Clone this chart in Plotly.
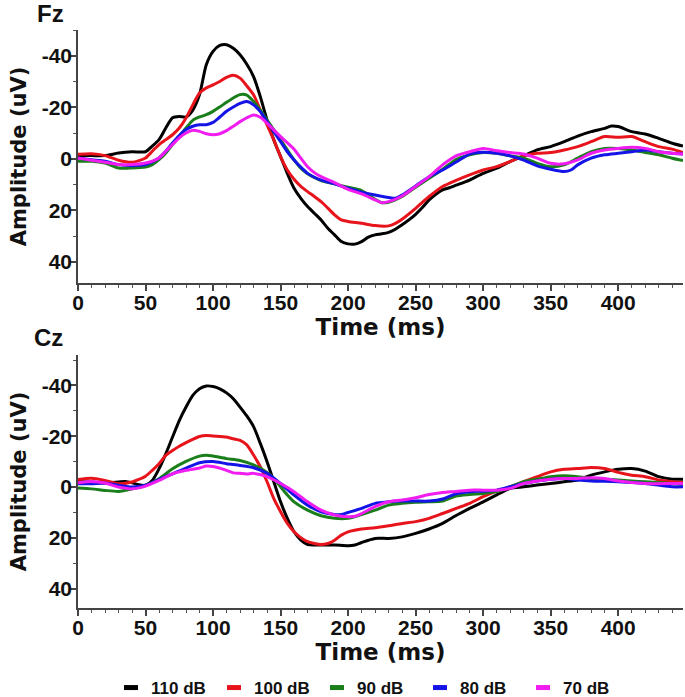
import plotly.graph_objects as go

# ---------------- data ----------------
levels = ["110 dB", "100 dB", "90 dB", "80 dB", "70 dB"]
colors = ["#000000", "#e8141c", "#1a7f1a", "#1414e6", "#f01cf0"]

# Fz panel
fz_t_110 = [0,10,20,30,40,50,55,60,65,70,75,80,85,90,95,100,105,110,115,120,125,130,135,140,145,150,155,160,165,170,175,180,185,190,195,200,205,210,215,220,225,230,235,240,245,250,255,260,265,270,275,280,290,300,310,320,330,340,350,360,370,380,390,395,400,410,420,430,440,448]
fz_v_110 = [-1.3,-1.3,-1.3,-2.3,-2.8,-2.8,-5,-7.5,-12,-16,-16.5,-16.3,-19,-25,-36.6,-41.8,-44.1,-44.4,-43,-40.5,-36.8,-32,-24.2,-15.1,-7.4,-0.9,5.6,11.4,15.3,18.5,21.1,23.7,26.9,29.5,32.1,33.0,33.1,32.1,30.4,29.5,29.1,28.5,27.3,25.6,23.7,21.5,18.9,15.9,13.7,12.0,11.2,10.2,8.2,5.6,3.6,1.0,-1.2,-3.5,-4.8,-6.7,-8.9,-10.6,-11.9,-12.8,-12.6,-10.6,-9.7,-8.0,-6.1,-5.0]

fz_t_100 = [0,10,20,30,40,50,55,60,65,70,75,80,85,90,95,100,105,110,115,120,125,130,135,140,145,150,155,160,165,170,175,180,185,190,195,200,210,220,230,235,240,250,260,270,280,290,300,310,320,330,340,350,360,370,380,390,400,410,420,430,440,448]
fz_v_100 = [-1.8,-2,-1.3,0.5,1.3,-0.4,-3,-5.6,-7.5,-9.4,-12,-15.9,-21,-25.6,-27.6,-28.8,-30.1,-31.7,-32.5,-31.4,-28.4,-24.9,-19,-13.2,-7.4,-0.9,4.3,7.9,10.7,12.7,14.6,16.6,19.1,21.7,23.7,24.3,25,25.9,26,25,23.4,19.2,14.6,10.7,8.3,6.2,4.3,3.0,1.0,-1.2,-2.2,-2.5,-3.5,-4.8,-6.7,-8.7,-8.4,-8.7,-6.7,-4.8,-3.8,-2.5]

fz_t_90 = [0,10,20,30,40,50,55,60,65,70,75,80,85,90,95,100,105,110,115,120,125,130,135,140,145,150,155,160,165,170,175,180,190,200,210,220,225,230,240,250,260,270,280,290,300,310,320,330,340,350,360,370,380,390,400,410,420,430,440,448]
fz_v_90 = [0.9,0.9,1.6,3.5,3.5,3.1,2.2,0.3,-2.3,-5.6,-8.8,-12,-15,-16.3,-17.2,-18.5,-20.2,-22,-23.7,-25,-24.8,-22.3,-19,-15.1,-11.3,-7.4,-3.5,0.4,3.6,5.8,7.2,8.4,9.7,11,12.3,15.7,17,16.8,14.6,11,7.5,4,0.2,-1.6,-2.5,-2.2,-1.2,-0.3,1.7,3,2.3,-0.3,-2.8,-4.1,-4.1,-3.5,-2.5,-1.6,-0.3,0.6]

fz_t_80 = [0,10,20,30,40,50,60,65,70,75,80,85,90,95,100,105,110,115,120,125,130,135,140,145,150,155,160,165,170,175,180,190,200,210,220,230,235,240,250,260,270,280,290,300,310,320,330,340,350,360,365,370,380,390,400,410,420,430,440,448]
fz_v_80 = [-0.4,0.3,0.9,2.2,2.6,2.2,-0.4,-3,-6.2,-9.1,-11.4,-12.7,-13.3,-13.3,-14.2,-16.3,-18.5,-20.2,-21.6,-22.3,-21,-18.4,-14.5,-10.6,-6.7,-2.8,0.4,3.2,5.6,7.1,8.2,9.7,11.4,12.9,14,15,15.3,14,10.5,6.9,4.3,1.2,-1.9,-2.6,-2.2,-1.2,0.4,2.7,4,4.9,4.3,2.3,-0.3,-1.6,-2.2,-2.8,-3.5,-2.8,-2.2,-1.9]

fz_t_70 = [0,10,20,30,40,50,60,65,70,75,80,85,90,95,100,105,110,115,120,125,130,135,140,145,150,155,160,165,170,175,180,190,200,210,220,225,230,240,250,260,270,280,290,300,310,320,330,340,350,360,370,380,390,400,410,420,430,440,448]
fz_v_70 = [-0.4,0.5,1.3,2.2,2.2,1.6,-0.4,-3,-5.6,-8.2,-10.1,-11.1,-10.7,-9.8,-9.4,-9.8,-11,-12.7,-14.5,-16,-17.1,-16.2,-13.9,-11.3,-8.7,-6.3,-3.8,-0.3,3,5.3,6.9,9.2,11.8,13.6,15.9,17,16.6,14.4,10.7,6.9,2.3,-1.2,-2.8,-4.1,-3.2,-2.5,-1.9,-0.3,1.7,1.9,0.4,-2.2,-3.5,-4.1,-4.5,-4.1,-2.8,-2.2,-1.9]

# Cz panel
cz_t_110 = [0,10,20,30,35,40,45,50,55,60,65,70,75,80,85,90,95,100,105,110,115,120,125,130,135,140,145,150,155,160,165,170,175,180,190,200,205,210,220,230,240,250,260,270,280,290,300,310,320,330,340,350,360,370,380,390,400,410,420,430,440,448]
cz_v_110 = [-2.2,-2,-1.6,-2,-2.2,-1.7,-0.9,-0.7,-2.6,-7.2,-13.1,-19.7,-26.2,-31.5,-36.1,-38.7,-39.8,-39.6,-38.7,-37.1,-34.8,-31.5,-28,-23.8,-17.2,-10,-2.1,5.8,12.3,17.6,20.9,22.6,22.8,22.8,22.8,23.1,22.8,21.8,20.2,20.2,19.6,18.2,16.5,14.3,11.2,8.4,5.8,3.1,0.5,-0.1,-0.8,-1.4,-2.1,-2.8,-4.7,-6.0,-7.0,-7.3,-6.3,-4.1,-3.1,-3.1]

cz_t_100 = [0,10,20,30,40,45,50,55,60,65,70,75,80,85,90,95,100,110,115,120,125,130,135,140,145,150,155,160,165,170,175,180,185,190,195,200,210,220,230,240,250,260,270,280,290,300,310,320,330,340,350,360,370,380,390,400,410,420,430,440,448]
cz_v_100 = [-3,-3.5,-2.6,-1.3,-2,-3,-4.3,-6.6,-9.2,-12.5,-14.4,-16.1,-17.5,-18.8,-19.9,-20.3,-20.1,-19.7,-19,-18.4,-16.6,-12.6,-8,-2.1,4.5,9.7,14.3,17.6,19.9,21.5,22.2,22.6,22.2,20.9,18.9,17.6,16.5,16,15.2,14.3,13.6,12.3,10.4,8.4,6.4,3.8,1.6,-0.1,-2.1,-4.1,-6,-7,-7.3,-7.7,-7.3,-5.8,-4.7,-4.1,-2.8,-2.1,-1.8]

cz_t_90 = [0,10,20,30,40,50,60,70,80,90,95,100,110,120,130,140,145,150,155,160,170,180,190,200,210,220,230,240,250,260,270,280,290,300,310,320,330,340,350,360,370,380,390,400,410,420,440,448]
cz_v_90 = [0.4,0.7,1.3,1.7,0.7,-0.7,-3.3,-7.2,-10.1,-12.2,-12.5,-12.2,-11.2,-10.5,-8.7,-5.8,-3.4,-0.1,3.1,5.8,9.1,11.3,12.3,12.3,10.8,9.1,7.1,6.4,6,5.8,5.5,3.5,2.9,2.5,1.8,-0.1,-2.1,-3.1,-4.1,-4.5,-4.1,-3.4,-3.1,-2.8,-2.4,-2.1,-1.4,-1.0]

cz_t_80 = [0,10,20,30,40,50,60,70,80,90,100,110,120,130,140,150,160,170,180,190,195,200,210,220,230,240,250,260,270,280,290,300,310,320,330,340,350,360,370,380,400,420,440,448]
cz_v_80 = [-1.3,-1.3,-1.6,-0.7,0,-0.7,-3,-5.2,-7.5,-9.6,-10.1,-9.2,-8.5,-7.6,-5.4,-1.4,3.1,7.1,9.7,10.8,10.8,10,8.4,6.4,5.8,5.5,5.5,5.5,4.7,2.6,1.8,1.6,1.2,-0.1,-1.4,-2.4,-3.1,-3.4,-2.8,-2.4,-2.1,-1.4,-0.1,-0.1]

cz_t_70 = [0,10,20,30,40,50,60,70,80,90,95,100,110,115,120,125,130,140,150,160,170,180,190,200,205,210,220,230,240,250,260,270,280,290,300,310,320,330,340,350,360,370,380,390,400,420,440,448]
cz_v_70 = [-1.7,-2.2,-1.6,0,0.7,-0.4,-2.6,-5.2,-6.6,-7.5,-8.3,-8.1,-6.6,-5.6,-5.4,-5.2,-5.4,-4.1,-1.4,1.8,5.8,9.1,11,11.7,11.5,10.4,7.7,5.8,5.1,4.2,2.9,2.1,1.7,1.2,1.2,1.2,0.5,-1.4,-2.4,-3.1,-3.4,-3.4,-3.7,-3.4,-2.4,-1.4,-1.4,-1.4]

panel_labels = ["Fz", "Cz"]
x_tickvals = [0, 50, 100, 150, 200, 250, 300, 350, 400]
y_tickvals = [-40, -20, 0, 20, 40]
y_ticktext = ["-40", "-20", "0", "20", "40"]

fz_series = [(fz_t_110, fz_v_110), (fz_t_100, fz_v_100), (fz_t_90, fz_v_90),
             (fz_t_80, fz_v_80), (fz_t_70, fz_v_70)]
cz_series = [(cz_t_110, cz_v_110), (cz_t_100, cz_v_100), (cz_t_90, cz_v_90),
             (cz_t_80, cz_v_80), (cz_t_70, cz_v_70)]

# ---------------- figure ----------------
W, H = 685, 697
ML, MR = 78, 2
PW = W - ML - MR
fig = go.Figure()

for i, (t, v) in enumerate(fz_series):
    fig.add_trace(go.Scatter(x=t, y=v, mode="lines", xaxis="x", yaxis="y",
                             line=dict(color=colors[i], width=3, shape="spline", smoothing=0.7),
                             showlegend=False, hoverinfo="skip"))
for i, (t, v) in enumerate(cz_series):
    fig.add_trace(go.Scatter(x=t, y=v, mode="lines", xaxis="x2", yaxis="y2",
                             line=dict(color=colors[i], width=3, shape="spline", smoothing=0.7),
                             showlegend=False, hoverinfo="skip"))
# legend entries
for i, name in enumerate(levels):
    fig.add_trace(go.Scatter(x=[None], y=[None], mode="markers", name=name,
                             xaxis="x2", yaxis="y2",
                             marker=dict(symbol="line-ew", size=10,
                                         line=dict(color=colors[i], width=6)),
                             showlegend=True))

tick_font = dict(family="Liberation Sans, Arial, sans-serif", size=21, color="#111111", weight="bold")
xtitle_font = dict(family="DejaVu Sans, sans-serif", size=23, color="#111111", weight="bold")
ytitle_font = dict(family="DejaVu Sans, sans-serif", size=21, color="#111111", weight="bold")

def xax(anchor):
    return dict(range=[0, 448], domain=[0, 1], anchor=anchor,
                tickmode="array", tickvals=x_tickvals,
                showline=True, linecolor="#444444", linewidth=1.5,
                ticks="outside", ticklen=6, tickwidth=1.5, tickcolor="#444444",
                minor=dict(dtick=10, tick0=0, ticks="outside", ticklen=3,
                           tickwidth=1, tickcolor="#555555"),
                ticklabelstandoff=-6,
                showgrid=False, zeroline=False, tickfont=tick_font,
                title=dict(text="Time (ms)", font=xtitle_font, standoff=2))

def yax(anchor, rng, dom):
    return dict(range=rng, domain=dom, anchor=anchor,
                tickmode="array", tickvals=y_tickvals, ticktext=y_ticktext,
                showline=True, linecolor="#444444", linewidth=1.5,
                ticks="outside", ticklen=6, tickwidth=1.5, tickcolor="#444444",
                minor=dict(dtick=10, tick0=0, ticks="outside", ticklen=3,
                           tickwidth=1, tickcolor="#555555"),
                ticklabelstandoff=-6,
                showgrid=False, zeroline=False, tickfont=tick_font,
                title=dict(text="Amplitude (uV)", font=ytitle_font, standoff=9))

def px_x(p):
    return (p - ML) / PW

fig.update_layout(
    width=W, height=H,
    margin=dict(l=ML, r=MR, t=0, b=0, autoexpand=False),
    plot_bgcolor="white", paper_bgcolor="white",
    xaxis=xax("y"),
    yaxis=yax("x", [48.2, -50.1], [1 - 283 / H, 1 - 30 / H]),
    xaxis2=xax("y2"),
    yaxis2=yax("x2", [47.6, -52.0], [1 - 608 / H, 1 - 355 / H]),
    legend=dict(orientation="h", x=px_x(111), xanchor="left",
                y=1 - 688 / H, yanchor="middle",
                font=dict(family="Liberation Sans, Arial, sans-serif", size=17,
                          color="#111111", weight="bold"),
                itemwidth=30, entrywidth=58, entrywidthmode="pixels",
                bgcolor="rgba(0,0,0,0)", tracegroupgap=0),
    annotations=[
        dict(text=panel_labels[0], x=px_x(50), y=1 - 13 / H, xref="paper", yref="paper",
             showarrow=False, xanchor="center", yanchor="middle",
             font=dict(family="Liberation Sans, Arial, sans-serif", size=24,
                       color="#111111", weight="bold")),
        dict(text=panel_labels[1], x=px_x(48), y=1 - 338 / H, xref="paper", yref="paper",
             showarrow=False, xanchor="center", yanchor="middle",
             font=dict(family="Liberation Sans, Arial, sans-serif", size=24,
                       color="#111111", weight="bold")),
    ],
)

fig.write_html("out.html", config={"displayModeBar": False},
               post_script="document.body.style.margin='0';")
